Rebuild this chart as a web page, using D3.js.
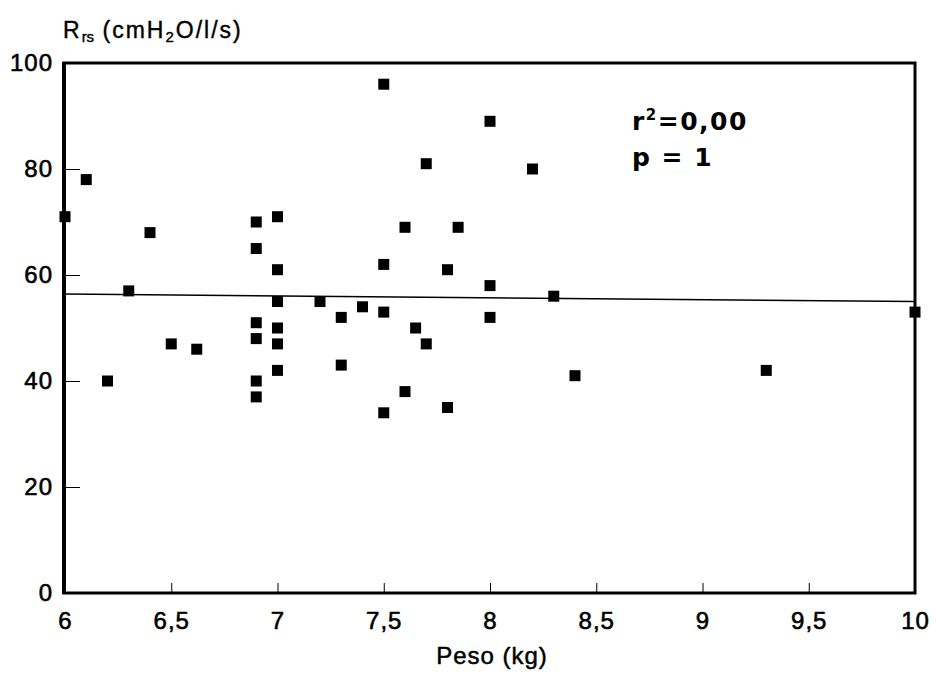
<!DOCTYPE html>
<html>
<head>
<meta charset="utf-8">
<script src="https://cdn.jsdelivr.net/npm/d3@7"></script>
<style>
body { margin: 0; background: #fff; }
text { fill: #000; }
</style>
</head>
<body>
<script>

// peso (kg) e Rrs (cmH2O/l/s) de cada paciente
const peso = [6.0, 6.1, 6.2, 6.3, 6.4, 6.5, 6.62,
    6.9, 6.9, 6.9, 6.9, 6.9, 6.9,
    7.0, 7.0, 7.0, 7.0, 7.0, 7.0,
    7.2, 7.3, 7.3, 7.4, 7.5, 7.5, 7.5, 7.5,
    7.6, 7.6, 7.65, 7.7, 7.7, 7.8, 7.8, 7.85,
    8.0, 8.0, 8.0, 8.2, 8.3, 8.4, 9.3, 10.0];
const rrs = [71, 78, 40, 57, 68, 47, 46,
    70, 65, 51, 48, 40, 37,
    71, 61, 55, 50, 47, 42,
    55, 52, 43, 54, 96, 62, 53, 34,
    69, 38, 50, 81, 47, 61, 35, 69,
    89, 58, 52, 80, 56, 41, 42, 53];

// reta de regressao
const fitX = [6, 10];
const fitY = [56.4, 55.0];

const xTicks = [6, 6.5, 7, 7.5, 8, 8.5, 9, 9.5, 10];
const yTicks = [0, 20, 40, 60, 80, 100];

const font = "'Liberation Sans', Arial, sans-serif";

const svg = d3.select("body")
    .append("svg")
    .attr("width", 936)
    .attr("height", 689);

const x = d3.scaleLinear().domain([6, 10]).range([65, 915]);
const y = d3.scaleLinear().domain([0, 100]).range([593, 63]);

const comma = d => String(d).replace(".", ",");

// eixos
const yAxis = svg.append("g")
    .attr("transform", "translate(64,0)")
    .call(d3.axisLeft(y).tickValues(yTicks).tickSize(-16).tickPadding(11).tickFormat(comma));

const xAxis = svg.append("g")
    .attr("transform", "translate(0,593)")
    .call(d3.axisBottom(x).tickValues(xTicks).tickSize(-10).tickPadding(19).tickFormat(comma));

[yAxis, xAxis].forEach(g => {
    g.select(".domain").remove();
    g.selectAll(".tick line").attr("stroke", "#000").attr("stroke-width", 1);
    g.selectAll(".tick text")
        .attr("font-family", font)
        .attr("font-size", 24)
        .attr("letter-spacing", 1)
        .attr("stroke", "#000")
        .attr("stroke-width", 0.6)
        .attr("fill", "#000");
});

// moldura
svg.append("rect")
    .attr("x", 64)
    .attr("y", 63)
    .attr("width", 851)
    .attr("height", 530)
    .attr("fill", "none")
    .attr("stroke", "#000")
    .attr("stroke-width", 3);

svg.append("line")
    .attr("x1", 64).attr("x2", 64)
    .attr("y1", 62).attr("y2", 594)
    .attr("stroke", "#000")
    .attr("stroke-width", 4);

// reta
const line = d3.line()
    .x(d => x(d[0]))
    .y(d => y(d[1]));

svg.append("path")
    .attr("fill", "none")
    .attr("stroke", "#000")
    .attr("stroke-width", 1.5)
    .attr("d", line(d3.zip(fitX, fitY)));

// pontos
const s = 11;
svg.selectAll("rect.pt")
    .data(d3.zip(peso, rrs))
    .enter().append("rect")
    .attr("class", "pt")
    .attr("x", d => x(d[0]) - s / 2)
    .attr("y", d => y(d[1]) - s / 2)
    .attr("width", s)
    .attr("height", s)
    .attr("fill", "#000");

// titulo do eixo y
const title = svg.append("text")
    .attr("x", 63)
    .attr("y", 38)
    .attr("font-family", font)
    .attr("font-size", 23)
    .attr("letter-spacing", 2)
    .attr("stroke", "#000")
    .attr("stroke-width", 0.4);
title.append("tspan").text("R");
title.append("tspan").attr("dy", 4).attr("font-size", 15).attr("letter-spacing", 0).text("rs");
title.append("tspan").attr("dy", -4).text(" (cmH");
title.append("tspan").attr("dy", 4).attr("font-size", 15).text("2");
title.append("tspan").attr("dy", -4).text("O/l/s)");

// titulo do eixo x
svg.append("text")
    .attr("x", 492)
    .attr("y", 664)
    .attr("text-anchor", "middle")
    .attr("font-family", font)
    .attr("font-size", 24)
    .attr("letter-spacing", 1)
    .attr("stroke", "#000")
    .attr("stroke-width", 0.5)
    .text("Peso (kg)");

// estatistica
const r2 = svg.append("text")
    .attr("x", 632).attr("y", 130)
    .attr("font-family", "'DejaVu Sans', sans-serif")
    .attr("font-weight", "bold")
    .attr("font-size", 25)
    .attr("letter-spacing", 1.5);
r2.append("tspan").text("r");
r2.append("tspan").attr("dy", -10).attr("font-size", 15).text("2");
r2.append("tspan").attr("dy", 10).text("=0,00");

svg.append("text")
    .attr("x", 632).attr("y", 166)
    .attr("font-family", "'DejaVu Sans', sans-serif")
    .attr("font-weight", "bold")
    .attr("font-size", 25)
    .attr("letter-spacing", 1.5)
    .text("p = 1");

</script>
</body>
</html>
